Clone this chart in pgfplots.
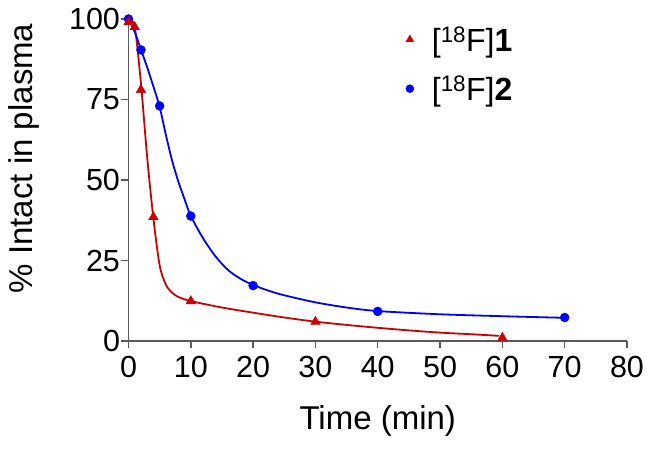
\documentclass[border=0pt]{standalone}
\usepackage{pgfplots}
\pgfplotsset{compat=1.18}
\usepackage{fontspec}
\setmainfont{Liberation Sans}
\definecolor{cred}{RGB}{204,0,0}
\definecolor{cblue}{RGB}{0,0,255}
\definecolor{axgray}{RGB}{90,90,90}
\begin{document}
\begin{tikzpicture}
\useasboundingbox (-128.5pt,-109pt) rectangle (521.5pt,341pt);
\begin{axis}[
  at={(0pt,0pt)}, anchor=origin,
  scale only axis,
  width=498.5pt, height=322pt,
  xmin=0, xmax=80, ymin=0, ymax=100,
  xtick={0,10,...,80}, ytick={0,25,50,75,100},
  axis x line*=bottom, axis y line*=left,
  axis line style={axgray, line width=1.4pt, -},
  tick style={axgray, line width=1.4pt},
  tick align=outside, major tick length=7pt,
  clip=false,
  /pgf/number format/assume math mode=true,
  tick label style={font=\fontsize{30.5}{30}\selectfont},
  yticklabel style={xshift=2pt},
  xticklabel style={yshift=-5pt},
  label style={font=\fontsize{33}{33}\selectfont},
  xlabel={Time (min)}, ylabel={\% Intact in plasma},
  xlabel style={at={(axis description cs:0.5,0)}, anchor=base, yshift=-88pt},
  ylabel style={at={(axis description cs:-0.1916,0.567)}, anchor=base},
  legend style={draw=none, fill=none, at={(axis cs:44,99)}, anchor=north west,
    font=\fontsize{32}{32}\selectfont, row sep=19pt, column sep=16pt},
  legend cell align=left,
]
\addlegendimage{only marks, mark=triangle*, mark size=4.5pt, color=cred}
\addlegendentry{[\textsuperscript{18}F]\textbf{1}}
\addlegendimage{only marks, mark=*, mark size=4pt, color=cblue}
\addlegendentry{[\textsuperscript{18}F]\textbf{2}}
% fitted curves
\addplot[cred, line width=1.8pt, smooth, forget plot] coordinates {
(0,100) (1,97.5) (2,80) (3,57) (4,38) (5,23.5) (6,17.5) (7,15) (8,13.7) (10,12.4)
(15,10.4) (20,8.8) (25,7.3) (30,6.0) (35,5.0) (40,4.1) (45,3.3) (50,2.6) (55,2.1) (59.5,1.6)};
\addplot[cblue, line width=1.8pt, smooth, forget plot] coordinates {
(0,100) (1,96) (2,90.5) (3,85) (4,79) (5,72.7) (6,64) (7,56) (8,49.5) (9,44) (10,38.8)
(12,31.8) (14,26.2) (16,22.0) (18,19.3) (20,17.4) (22.5,15.6) (25,14.2) (30,12.0) (35,10.4) (40,9.3)
(50,8.3) (60,7.7) (70,7.2)};
% data points
\addplot[only marks, mark=*, mark size=4.5pt, color=cblue, forget plot] coordinates {
(0,100) (2,90.4) (5,73) (10,38.8) (20,17.2) (40,9.2) (70,7.3)};
\addplot[only marks, mark=triangle*, mark size=5.5pt, color=cred, forget plot] coordinates {
(0,99) (1,97.5) (2,78) (4,38.5) (10,12.4) (30,6.0) (60,1.0)};
\end{axis}
\end{tikzpicture}
\end{document}
